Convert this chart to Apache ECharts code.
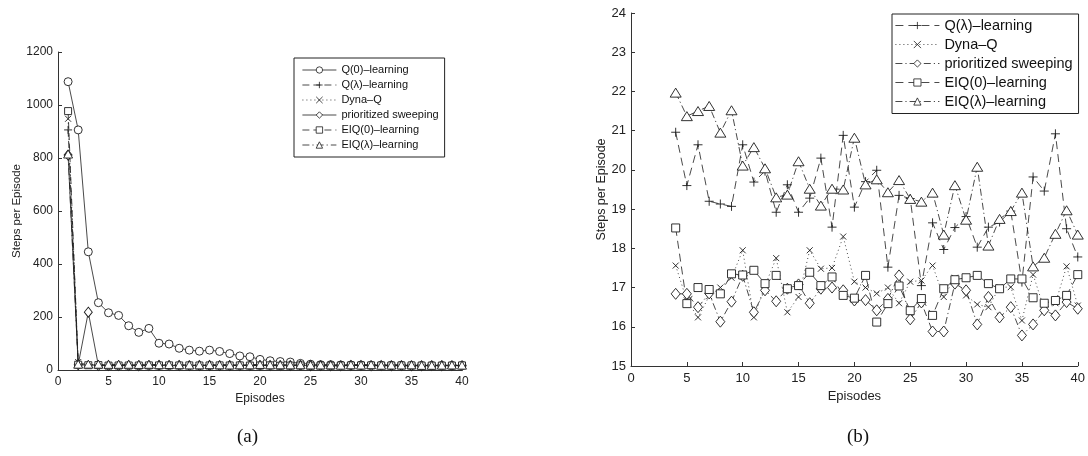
<!DOCTYPE html>
<html><head><meta charset="utf-8">
<script src="https://cdn.jsdelivr.net/npm/echarts@6/dist/echarts.min.js"></script>
<style>html,body{margin:0;padding:0;background:#fff}#c{width:1088px;height:456px}</style>
</head><body><div id="c"></div>
<script>
// ---- data ----
const seriesNames = ['Q(0)–learning','Q(λ)–learning','Dyna–Q','prioritized sweeping','EIQ(0)–learning','EIQ(λ)–learning'];
const captions = ['(a)','(b)'];
// panel (a): Q(0)-learning, episodes 1..40
const q0Learning = [1088,906,446,254,216,206,167,142,157,101,98,82,75,71,75,70,62,53,50,40,35,32,30,25,22,20,20,19,19,19,18,18,18,18,17,17,17,17,17,17];
// panel (a): episodes 1..3 of the other methods
const qLambdaStart = [906,25,20];
const dynaQStart   = [948,30,19];
const prioStart    = [811,20,218];
const eiq0Start    = [977,20,18];
const eiqLambdaStart = [815,22,22];
// episodes 4..40 (panel b, also continue panel a)
const qLambda = [20.96,19.6,20.64,19.2,19.13,19.07,20.64,19.69,19.97,18.92,19.62,18.92,19.28,20.3,18.54,20.88,19.05,19.7,19.99,17.52,19.35,19.27,17.05,18.65,17.97,18.53,18.81,18.03,18.54,18.67,18.95,17.14,19.82,19.46,20.92,18.5,17.78];
const dynaQ = [17.56,16.67,16.24,16.78,17.0,17.25,17.95,16.24,17.05,17.75,16.37,16.76,17.95,17.48,17.5,18.3,17.15,17.0,16.85,17.0,16.6,17.15,17.18,17.56,16.76,17.25,16.8,16.57,16.5,17.01,17.01,16.16,17.33,16.45,16.6,17.54,16.54];
const prio = [16.84,16.84,16.5,16.85,16.13,16.64,17.3,16.37,16.93,16.65,16.97,17.08,16.6,16.97,17.0,16.93,16.67,16.68,16.42,16.71,17.31,16.19,16.62,15.88,15.88,17.1,16.93,16.06,16.76,16.24,16.5,15.78,16.06,16.42,16.29,16.63,16.46];
const eiq0 = [18.52,16.59,17.0,16.95,16.84,17.35,17.32,17.44,17.1,17.31,16.97,17.05,17.39,17.05,17.27,16.8,16.73,17.31,16.12,16.59,17.04,16.41,16.72,16.29,16.97,17.2,17.25,17.31,17.1,16.97,17.22,17.22,16.74,16.6,16.67,16.8,17.33];
const eiqLambda = [21.97,21.37,21.5,21.63,20.95,21.52,20.11,20.58,20.04,19.3,19.37,20.22,19.52,19.09,19.52,19.5,20.82,19.63,19.76,19.43,19.74,19.26,19.19,19.42,18.35,19.61,18.73,20.08,18.07,18.75,18.95,19.42,17.54,17.76,18.37,18.97,18.35];

// ---- styling ----
const INK = '#1c1c1c';
const FONT = 'Liberation Sans, Arial, sans-serif';
const PLUS = 'path://M5,0L5,10M0,5L10,5';
const CROSS = 'path://M0,0L10,10M10,0L0,10';
const DASH = [7,4], DOT = [1,3], DASHDOT = [7,3,1.2,3];
const pairs = (arr, first) => arr.map((v,i)=>[i+first, v]);

function mk(name, g, data, sym, size, dash){
  return {type:'line', name, xAxisIndex:g, yAxisIndex:g, data, symbol:sym, symbolSize:size,
    showSymbol:true, showAllSymbol:true, animation:false, emphasis:{disabled:true},
    lineStyle:{color:INK, width:0.8, type:dash},
    itemStyle:{color:'#fff', borderColor:INK, borderWidth:0.9}};
}
const A = 'a:', B = 'b:';
const series = [
  mk(A+seriesNames[0],0,pairs(q0Learning,1),'circle',8,'solid'),
  mk(A+seriesNames[1],0,pairs(qLambdaStart.concat(qLambda),1),PLUS,8,DASH),
  mk(A+seriesNames[2],0,pairs(dynaQStart.concat(dynaQ),1),CROSS,6,DOT),
  mk(A+seriesNames[3],0,pairs(prioStart.concat(prio),1),'diamond',[8,10],'solid'),
  mk(A+seriesNames[4],0,pairs(eiq0Start.concat(eiq0),1),'rect',7,DASH),
  mk(A+seriesNames[5],0,pairs(eiqLambdaStart.concat(eiqLambda),1),'triangle',[9,8],DASHDOT),
  mk(B+seriesNames[1],1,pairs(qLambda,4),PLUS,9,[8,5]),
  mk(B+seriesNames[2],1,pairs(dynaQ,4),CROSS,6,DOT),
  mk(B+seriesNames[3],1,pairs(prio,4),'diamond',[9,11],DASHDOT),
  mk(B+seriesNames[4],1,pairs(eiq0,4),'rect',8,[8,5]),
  mk(B+seriesNames[5],1,pairs(eiqLambda,4),'triangle',[11,9],DASHDOT)
];

function xAx(g, fs, gap){
  return {gridIndex:g, type:'value', min:0, max:40, interval:5,
    axisLine:{show:true, onZero:false, lineStyle:{color:'#333', width:1}},
    axisTick:{show:true, inside:true, length:4, lineStyle:{color:'#333'}},
    axisLabel:{fontSize:fs, color:'#222', fontFamily:FONT, margin:6, formatter:v=>String(v)},
    splitLine:{show:false},
    name:'Episodes', nameLocation:'middle', nameGap:gap,
    nameTextStyle:{fontSize:fs, color:'#222', fontFamily:FONT}};
}
function yAx(g, min, max, iv, fs, gap){
  return {gridIndex:g, type:'value', min, max, interval:iv,
    axisLine:{show:true, onZero:false, lineStyle:{color:'#333', width:1}},
    axisTick:{show:true, inside:true, length:4, lineStyle:{color:'#333'}},
    axisLabel:{fontSize:fs, color:'#222', fontFamily:FONT, margin:5, formatter:v=>String(v)},
    splitLine:{show:false},
    name:'Steps per Episode', nameLocation:'middle', nameGap:gap, nameRotate:90,
    nameTextStyle:{fontSize:fs-0.5, color:'#222', fontFamily:FONT}};
}
function leg(prefix, names, left, top, pad, iw, ih, gap, fs){
  return {orient:'vertical', left, top, padding:pad, itemWidth:iw, itemHeight:ih, itemGap:gap,
    borderColor:'#222', borderWidth:1, backgroundColor:'#fff', borderRadius:0,
    selectedMode:false, data:names.map(n=>prefix+n), formatter:n=>n.slice(2),
    itemStyle:{borderWidth:0.8, borderColor:INK, color:'#fff'},
    lineStyle:{width:0.8, color:INK},
    textStyle:{fontSize:fs, color:'#111', fontFamily:FONT}};
}

const chart = echarts.init(document.getElementById('c'), null, {renderer:'canvas'});
chart.setOption({
  animation:false,
  backgroundColor:'#fff',
  grid:[
    {left:58, top:52, width:404, height:318, containLabel:false},
    {left:631, top:13, width:449, height:353, containLabel:false}
  ],
  xAxis:[xAx(0,12,20), xAx(1,13,21)],
  yAxis:[yAx(0,0,1200,200,12,30), yAx(1,15,24,1,13,22)],
  legend:[
    leg(A, seriesNames, 294, 58, [6.5,6,6.5,8], 34, 8, 4, 11),
    leg(B, seriesNames.slice(1), 892, 14, [4,6,4.5,3], 44, 9, 4, 14.5)
  ],
  graphic:[
    {type:'text', left:237, top:428, style:{text:captions[0], font:'19px "Liberation Serif", serif', fill:'#111'}},
    {type:'text', left:847, top:428, style:{text:captions[1], font:'19px "Liberation Serif", serif', fill:'#111'}}
  ],
  series
});
</script>
</body></html>
